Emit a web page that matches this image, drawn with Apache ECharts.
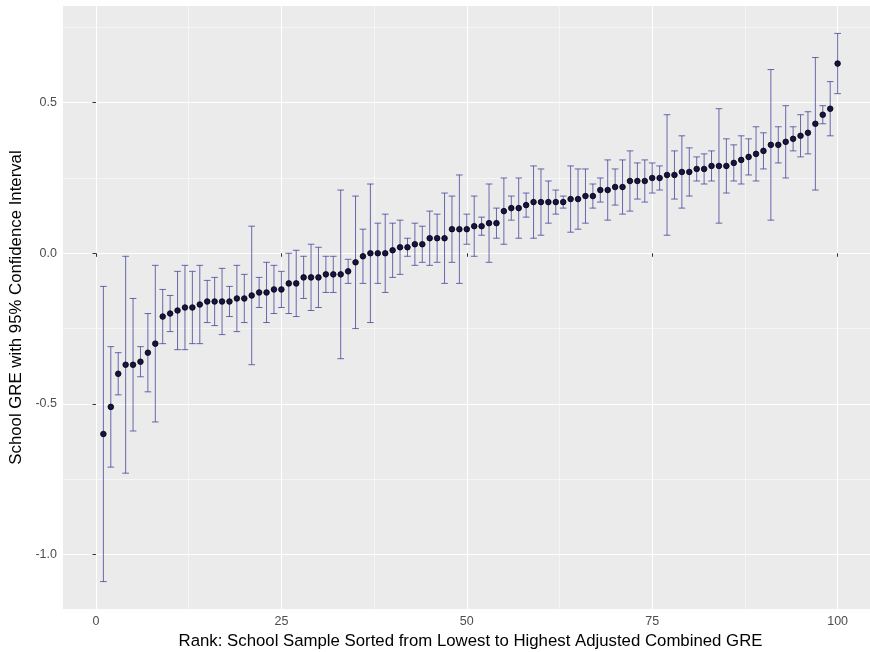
<!DOCTYPE html>
<html>
<head>
<meta charset="utf-8">
<script src="https://cdn.jsdelivr.net/npm/echarts@6/dist/echarts.min.js"></script>
<style>
  html, body { margin: 0; padding: 0; background: #fff; }
  #chart { width: 870px; height: 652px; }
</style>
</head>
<body>
<div id="chart"></div>
<script>
// school estimates, sorted by rank (1..100)
const schoolGre = [
  -0.60, -0.51, -0.40, -0.37, -0.37, -0.36, -0.33, -0.30, -0.21, -0.20,
  -0.19, -0.18, -0.18, -0.17, -0.16, -0.16, -0.16, -0.16, -0.15, -0.15,
  -0.14, -0.13, -0.13, -0.12, -0.12, -0.10, -0.10, -0.08, -0.08, -0.08,
  -0.07, -0.07, -0.07, -0.06, -0.03, -0.01, 0.00, 0.00, 0.00, 0.01,
  0.02, 0.02, 0.03, 0.03, 0.05, 0.05, 0.05, 0.08, 0.08, 0.08,
  0.09, 0.09, 0.10, 0.10, 0.14, 0.15, 0.15, 0.16, 0.17, 0.17,
  0.17, 0.17, 0.17, 0.18, 0.18, 0.19, 0.19, 0.21, 0.21, 0.22,
  0.22, 0.24, 0.24, 0.24, 0.25, 0.25, 0.26, 0.26, 0.27, 0.27,
  0.28, 0.28, 0.29, 0.29, 0.29, 0.30, 0.31, 0.32, 0.33, 0.34,
  0.36, 0.36, 0.37, 0.38, 0.39, 0.40, 0.43, 0.46, 0.48, 0.63
];
const ciLower = [
  -1.09, -0.71, -0.47, -0.73, -0.59, -0.41, -0.46, -0.56, -0.30, -0.26,
  -0.32, -0.32, -0.30, -0.30, -0.23, -0.24, -0.27, -0.21, -0.26, -0.23,
  -0.37, -0.18, -0.23, -0.20, -0.18, -0.20, -0.21, -0.15, -0.19, -0.18,
  -0.13, -0.13, -0.35, -0.10, -0.25, -0.10, -0.23, -0.10, -0.13, -0.08,
  -0.07, -0.01, -0.04, -0.03, -0.04, -0.03, -0.10, -0.03, -0.10, 0.03,
  -0.01, 0.06, -0.03, 0.05, 0.03, 0.11, 0.05, 0.12, 0.05, 0.06,
  0.10, 0.13, 0.15, 0.07, 0.08, 0.10, 0.15, 0.17, 0.11, 0.16,
  0.13, 0.14, 0.18, 0.17, 0.20, 0.21, 0.06, 0.18, 0.15, 0.19,
  0.24, 0.23, 0.24, 0.10, 0.20, 0.24, 0.23, 0.26, 0.24, 0.28,
  0.11, 0.30, 0.25, 0.34, 0.32, 0.33, 0.21, 0.43, 0.39, 0.53
];
const ciUpper = [
  -0.11, -0.31, -0.33, -0.01, -0.15, -0.31, -0.20, -0.04, -0.12, -0.14,
  -0.06, -0.04, -0.06, -0.04, -0.09, -0.08, -0.05, -0.11, -0.04, -0.07,
  0.09, -0.08, -0.03, -0.04, -0.06, 0.00, 0.01, -0.01, 0.03, 0.02,
  -0.01, -0.01, 0.21, -0.02, 0.19, 0.08, 0.23, 0.10, 0.13, 0.10,
  0.11, 0.05, 0.10, 0.09, 0.14, 0.13, 0.20, 0.19, 0.26, 0.13,
  0.19, 0.12, 0.23, 0.15, 0.25, 0.19, 0.25, 0.20, 0.29, 0.28,
  0.24, 0.21, 0.19, 0.29, 0.28, 0.28, 0.23, 0.25, 0.31, 0.28,
  0.31, 0.34, 0.30, 0.31, 0.30, 0.29, 0.46, 0.34, 0.39, 0.35,
  0.32, 0.33, 0.34, 0.48, 0.38, 0.36, 0.39, 0.38, 0.42, 0.40,
  0.61, 0.42, 0.49, 0.42, 0.46, 0.47, 0.65, 0.49, 0.57, 0.73
];
const xTicks = [0, 25, 50, 75, 100];
const xMinor = [12.5, 37.5, 62.5, 87.5];
const yTicks = [-1.0, -0.5, 0.0, 0.5];
const yMinor = [-0.75, -0.25, 0.25, 0.75];

const capHalf = 0.45;
const font = 'Liberation Sans';

const points = schoolGre.map((v, i) => [i + 1, v]);
const bars = schoolGre.map((v, i) => [i + 1, ciLower[i], ciUpper[i]]);

const chart = echarts.init(document.getElementById('chart'));

const renderBar = (params, api) => {
  const x = api.value(0);
  const lo = api.coord([x, api.value(1)]);
  const hi = api.coord([x, api.value(2)]);
  const l = api.coord([x - capHalf, api.value(1)])[0];
  const r = api.coord([x + capHalf, api.value(1)])[0];
  const style = { stroke: 'rgba(60,60,150,0.75)', lineWidth: 1, fill: null };
  return {
    type: 'group',
    children: [
      { type: 'line', shape: { x1: lo[0], y1: lo[1], x2: hi[0], y2: hi[1] }, style },
      { type: 'line', shape: { x1: l, y1: lo[1], x2: r, y2: lo[1] }, style },
      { type: 'line', shape: { x1: l, y1: hi[1], x2: r, y2: hi[1] }, style }
    ]
  };
};

// panel runs past the right edge in the original
const xBase = { type: 'value', min: -4.445, max: 105.445, gridIndex: 0 };
const yBase = { type: 'value', min: -1.181, max: 0.821, gridIndex: 0 };

chart.setOption({
  animation: false,
  backgroundColor: '#fff',
  textStyle: { fontFamily: font },
  grid: {
    left: 63, top: 6, width: 815, height: 603,
    outerBoundsMode: 'none',
    show: true, backgroundColor: '#EBEBEB', borderWidth: 0
  },
  xAxis: [
    {
      ...xBase,
      name: 'Rank: School Sample Sorted from Lowest to Highest Adjusted Combined GRE',
      nameLocation: 'middle',
      nameGap: 21,
      nameTextStyle: { color: '#000', fontSize: 16.8, fontFamily: font },
      axisLine: { show: false },
      axisTick: { show: true, length: 3.5, customValues: xTicks, lineStyle: { color: '#333', width: 1 } },
      axisLabel: { customValues: xTicks, color: '#4D4D4D', fontSize: 12.5, margin: 6, fontFamily: font },
      splitLine: { show: true, lineStyle: { color: '#fff', width: 1.1 } }
    },
    {
      ...xBase,
      show: true,
      axisLine: { show: false },
      axisTick: { show: false, customValues: xMinor },
      axisLabel: { show: false, customValues: xMinor },
      splitLine: { show: true, lineStyle: { color: '#fff', width: 0.5 } }
    }
  ],
  yAxis: [
    {
      ...yBase,
      name: 'School GRE with 95% Confidence Interval',
      nameLocation: 'middle',
      nameGap: 34,
      nameTextStyle: { color: '#000', fontSize: 16.8, fontFamily: font },
      axisLine: { show: false },
      axisTick: { show: true, length: 3.5, customValues: yTicks, lineStyle: { color: '#333', width: 1 } },
      axisLabel: {
        customValues: yTicks, color: '#4D4D4D', fontSize: 12.5, margin: 6, fontFamily: font,
        formatter: v => v.toFixed(1)
      },
      splitLine: { show: true, lineStyle: { color: '#fff', width: 1.1 } }
    },
    {
      ...yBase,
      show: true,
      axisLine: { show: false },
      axisTick: { show: false, customValues: yMinor },
      axisLabel: { show: false, customValues: yMinor },
      splitLine: { show: true, lineStyle: { color: '#fff', width: 0.5 } }
    }
  ],
  series: [
    {
      type: 'custom',
      xAxisIndex: 0,
      yAxisIndex: 0,
      renderItem: renderBar,
      encode: { x: 0, y: [1, 2] },
      data: bars,
      z: 3
    },
    {
      type: 'scatter',
      xAxisIndex: 0,
      yAxisIndex: 0,
      data: points,
      symbolSize: 5.6,
      itemStyle: { color: '#14144a', borderColor: '#000', borderWidth: 0.8, opacity: 1 },
      z: 4
    }
  ]
});
</script>
</body>
</html>
